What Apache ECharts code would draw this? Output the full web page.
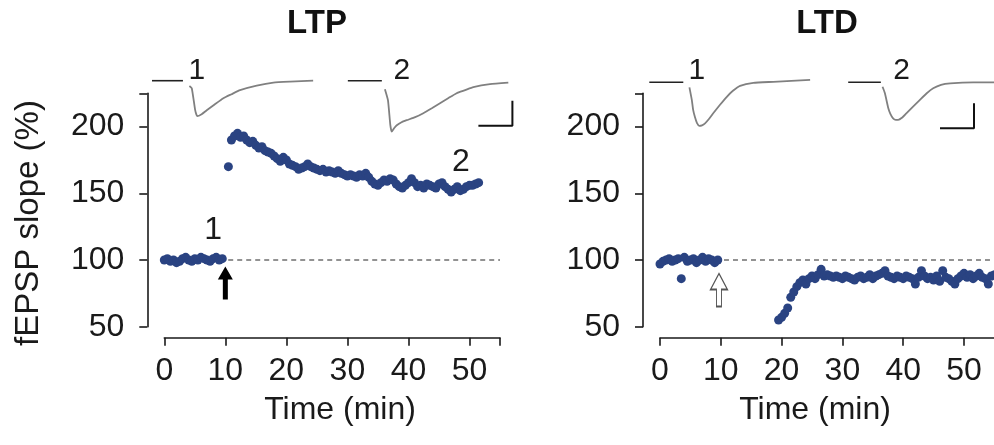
<!DOCTYPE html>
<html><head><meta charset="utf-8">
<script src="https://cdn.jsdelivr.net/npm/echarts@6/dist/echarts.min.js"></script>
<style>html,body{margin:0;padding:0;background:#fff}#c{width:994px;height:445px}</style>
</head><body><div id="c"></div><script>
// ---------- data ----------
const xTickValues = [0, 10, 20, 30, 40, 50, 55];
const xLabelValues = [0, 10, 20, 30, 40, 50];
const yTickValues = [50, 100, 150, 200, 225];
const yLabelValues = [50, 100, 150, 200];

const ltpBaseTime = [0,0.5,1,1.5,2,2.5,3,3.5,4,4.5,5,5.5,6,6.5,7,7.5,8,8.5,9,9.5];
const ltpBase = [100,101,99,100,98,99,101,102,100,99,101,100,102,101,100,99,101,102,100,101];
const ltpPostTime = [10.5,11,11.5,12,12.5,13,13.5,14,14.5,15,15.5,16,16.5,17,17.5,18,18.5,19,19.5,20,20.5,21,21.5,22,22.5,23,23.5,24,24.5,25,25.5,26,26.5,27,27.5,28,28.5,29,29.5,30,30.5,31,31.5,32,32.5,33,33.5,34,34.5,35,35.5,36,36.5,37,37.5,38,38.5,39,39.5,40,40.5,41,41.5,42,42.5,43,43.5,44,44.5,45,45.5,46,46.5,47,47.5,48,48.5,49,49.5,50,50.5,51,51.5];
const ltpPost = [170,190,193,195,192,193,190,188,189,186,184,185,182,181,180,178,176,174,177,175,172,171,170,168,169,170,172,170,169,168,167,168,166,167,166,165,167,165,164,163,164,163,162,164,163,165,162,159,157,156,158,160,159,161,160,157,155,154,156,158,161,158,155,156,154,157,156,155,154,157,158,155,153,151,153,155,152,153,155,156,156,157,158];

const ltdBaseTime = [0,0.5,1,1.5,2,2.5,3,3.5,4,4.5,5,5.5,6,6.5,7,7.5,8,8.5,9,9.5];
const ltdBase = [97,99,100,101,99,100,101,86,102,99,100,101,98,100,102,99,101,100,98,100];
const ltdPostTime = [19.5,20,20.5,21,21.5,22,22.5,23,23.5,24,24.5,25,25.5,26,26.5,27,27.5,28,28.5,29,29.5,30,30.5,31,31.5,32,32.5,33,33.5,34,34.5,35,35.5,36,36.5,37,37.5,38,38.5,39,39.5,40,40.5,41,41.5,42,42.5,43,43.5,44,44.5,45,45.5,46,46.5,47,47.5,48,48.5,49,49.5,50,50.5,51,51.5,52,52.5,53,53.5,54,54.5,55];
const ltdPost = [55,57,60,64,72,76,80,83,85,82,86,88,86,89,93,88,89,88,87,88,87,86,88,87,86,85,87,88,86,87,89,86,88,89,90,92,88,87,86,88,87,86,88,87,86,82,87,92,88,86,87,85,88,84,92,87,86,84,82,86,88,90,87,89,86,88,90,87,86,82,88,89];

const baselinePct = 100;
const refLineTime = [-2.8, 55];
const ltpArrow = [10, 82.8];
const ltdArrow = [9.7, 77.5];
const ltpNumLabels = [[8, 122.5, '1'], [48.6, 173.5, '2']];

// insets (ms, mV)
const ltpBaseline1 = [[0,0],[9.1,0]];
const ltpTrace1 = [[11.0,-0.106],[11.7,-0.15],[12.7,-0.59],[13.3,-0.71],[14.6,-0.67],[16.1,-0.59],[18.5,-0.47],[21.0,-0.35],[23.4,-0.27],[25.9,-0.19],[30.8,-0.10],[35.7,-0.04],[40.6,-0.02],[47.4,0]];
const ltpBaseline2 = [[57.6,0],[67.6,0]];
const ltpTrace2 = [[68.5,-0.17],[69.4,-0.39],[70.1,-0.89],[70.5,-1.02],[71.2,-0.95],[72.0,-0.89],[73.4,-0.83],[74.9,-0.79],[77.4,-0.73],[79.8,-0.65],[82.3,-0.55],[84.7,-0.45],[87.1,-0.35],[89.6,-0.25],[92.1,-0.19],[94.5,-0.13],[99.4,-0.07],[104.8,-0.04]];
const ltpScaleBar = [[96,-0.9],[106,-0.9],[106,-0.4]];
const ltpTraceLabels = [[13.2,0.19,'1'],[73.5,0.19,'2']];

const ltdBaseline1 = [[0,0],[10,0]];
const ltdTrace1 = [[11.8,-0.10],[12.5,-0.35],[12.9,-0.55],[13.4,-0.69],[14.0,-0.81],[14.7,-0.87],[15.5,-0.86],[16.4,-0.82],[17.6,-0.73],[18.8,-0.62],[20.8,-0.45],[22.8,-0.29],[24.6,-0.17],[26.7,-0.07],[30.6,-0.01],[36.5,0.01],[47.3,0.05]];
const ltdBaseline2 = [[58.5,0],[68.1,0]];
const ltdTrace2 = [[68.6,-0.09],[69.3,-0.22],[70.3,-0.52],[70.9,-0.63],[71.7,-0.72],[72.5,-0.75],[73.2,-0.75],[74.3,-0.71],[75.6,-0.62],[77.5,-0.49],[79.6,-0.35],[81.6,-0.22],[83.5,-0.12],[85.8,-0.05],[88.5,-0.02],[95.3,0],[101.4,0]];
const ltdScaleBar = [[85.5,-0.92],[95.5,-0.92],[95.5,-0.42]];
const ltdTraceLabels = [[14,0.23,'1'],[74.2,0.23,'2']];

// ---------- styling ----------
const FONT = '"Liberation Sans", Arial, Helvetica, sans-serif';
const INK = '#1a1a1a';
const DOT = '#2a4382';
const TRACE = '#808080';

const zip = (a, b) => a.map((t, i) => [t, b[i]]);

function mainX(gi) {
  return {
    type: 'value', gridIndex: gi, min: 0, max: 55, interval: 10, offset: 11,
    axisLine: { show: true, onZero: false, lineStyle: { color: INK, width: 1.6 } },
    axisTick: { show: true, length: 8, customValues: xTickValues, lineStyle: { color: INK, width: 1.6 } },
    axisLabel: { customValues: xLabelValues, margin: 17, fontSize: 32, color: INK, fontFamily: FONT },
    splitLine: { show: false }
  };
}
function mainY(gi) {
  return {
    type: 'value', gridIndex: gi, min: 50, max: 225, interval: 25, offset: 17, position: 'left',
    axisLine: { show: true, onZero: false, lineStyle: { color: INK, width: 1.6 } },
    axisTick: { show: true, length: 8, customValues: yTickValues, lineStyle: { color: INK, width: 1.6 } },
    axisLabel: { customValues: yLabelValues, margin: 23, fontSize: 32, color: INK, fontFamily: FONT },
    splitLine: { show: false }
  };
}
function hiddenAxis(gi, min, max) {
  return { type: 'value', gridIndex: gi, min: min, max: max, show: false, splitLine: { show: false } };
}
function dots(xi, t, v) {
  return { type: 'scatter', xAxisIndex: xi, yAxisIndex: xi, data: zip(t, v), symbolSize: 9,
    itemStyle: { color: DOT, opacity: 1 }, z: 4, silent: true };
}
function ref(xi) {
  return { type: 'line', xAxisIndex: xi, yAxisIndex: xi, data: refLineTime.map(t => [t, baselinePct]),
    symbol: 'none', clip: false, silent: true, z: 2,
    lineStyle: { color: '#6f6f6f', width: 1.3, type: [5, 4] } };
}
function pline(xi, data, color, width) {
  return { type: 'line', xAxisIndex: xi, yAxisIndex: xi, data: data, symbol: 'none', clip: false,
    silent: true, smooth: 0.15, lineStyle: { color: color, width: width }, z: 3 };
}
function textMarks(xi, items, size) {
  return { type: 'scatter', xAxisIndex: xi, yAxisIndex: xi, symbolSize: 1, clip: false, silent: true,
    itemStyle: { color: 'transparent', opacity: 1 }, data: items.map(d => ({ value: [d[0], d[1]], name: d[2] })),
    label: { show: true, position: 'inside', formatter: p => p.name, fontSize: size, color: INK, fontFamily: FONT }, z: 5 };
}

const option = {
  animation: false,
  backgroundColor: '#fff',
  grid: [
    { left: 164.3, top: 93.3, width: 335.7, height: 233.4, outerBoundsMode: 'none' },
    { left: 660, top: 93.3, width: 334.4, height: 233.4, outerBoundsMode: 'none' },
    { left: 152, top: 60.7, width: 367.2, height: 80, outerBoundsMode: 'none' },
    { left: 649.3, top: 62.3, width: 346.8, height: 80, outerBoundsMode: 'none' }
  ],
  xAxis: [mainX(0), mainX(1), hiddenAxis(2, 0, 108), hiddenAxis(3, 0, 102)],
  yAxis: [mainY(0), mainY(1), hiddenAxis(2, -1.2, 0.4), hiddenAxis(3, -1.2, 0.4)],
  graphic: [
    { type: 'text', x: 317, y: 24, style: { text: 'LTP', font: 'bold 33px ' + FONT, fill: '#111', textAlign: 'center', textVerticalAlign: 'middle' } },
    { type: 'text', x: 827, y: 24, style: { text: 'LTD', font: 'bold 33px ' + FONT, fill: '#111', textAlign: 'center', textVerticalAlign: 'middle' } },
    { type: 'text', x: 29, y: 223, rotation: Math.PI / 2, style: { text: 'fEPSP slope (%)', font: '33px ' + FONT, fill: INK, textAlign: 'center', textVerticalAlign: 'middle' } },
    { type: 'text', x: 340, y: 410, style: { text: 'Time (min)', font: '32px ' + FONT, fill: INK, textAlign: 'center', textVerticalAlign: 'middle' } },
    { type: 'text', x: 815, y: 410, style: { text: 'Time (min)', font: '32px ' + FONT, fill: INK, textAlign: 'center', textVerticalAlign: 'middle' } }
  ],
  series: [
    ref(0), ref(1),
    dots(0, ltpBaseTime, ltpBase), dots(0, ltpPostTime, ltpPost),
    dots(1, ltdBaseTime, ltdBase), dots(1, ltdPostTime, ltdPost),
    { type: 'scatter', xAxisIndex: 0, yAxisIndex: 0, data: [ltpArrow], silent: true, z: 6,
      symbol: 'path://M7.5,0 L15,13 L10,13 L10,33 L5,33 L5,13 L0,13 Z', symbolSize: [15, 33],
      itemStyle: { color: '#000', opacity: 1 } },
    { type: 'scatter', xAxisIndex: 1, yAxisIndex: 1, data: [ltdArrow], silent: true, z: 6,
      symbol: 'path://M8.5,0 L17,16 L11,16 L11,33 L6,33 L6,16 L0,16 Z', symbolSize: [17, 33],
      itemStyle: { color: '#fff', borderColor: '#555', borderWidth: 1.3, opacity: 1 } },
    textMarks(0, ltpNumLabels, 32),
    pline(2, ltpBaseline1, '#222', 1.6), pline(2, ltpTrace1, TRACE, 1.8),
    pline(2, ltpBaseline2, '#222', 1.6), pline(2, ltpTrace2, TRACE, 1.8),
    pline(2, ltpScaleBar, '#111', 2),
    textMarks(2, ltpTraceLabels, 30),
    pline(3, ltdBaseline1, '#222', 1.6), pline(3, ltdTrace1, TRACE, 1.8),
    pline(3, ltdBaseline2, '#222', 1.6), pline(3, ltdTrace2, TRACE, 1.8),
    pline(3, ltdScaleBar, '#111', 2),
    textMarks(3, ltdTraceLabels, 30)
  ]
};
const chart = echarts.init(document.getElementById('c'), null, { renderer: 'canvas' });
chart.setOption(option);
</script></body></html>
